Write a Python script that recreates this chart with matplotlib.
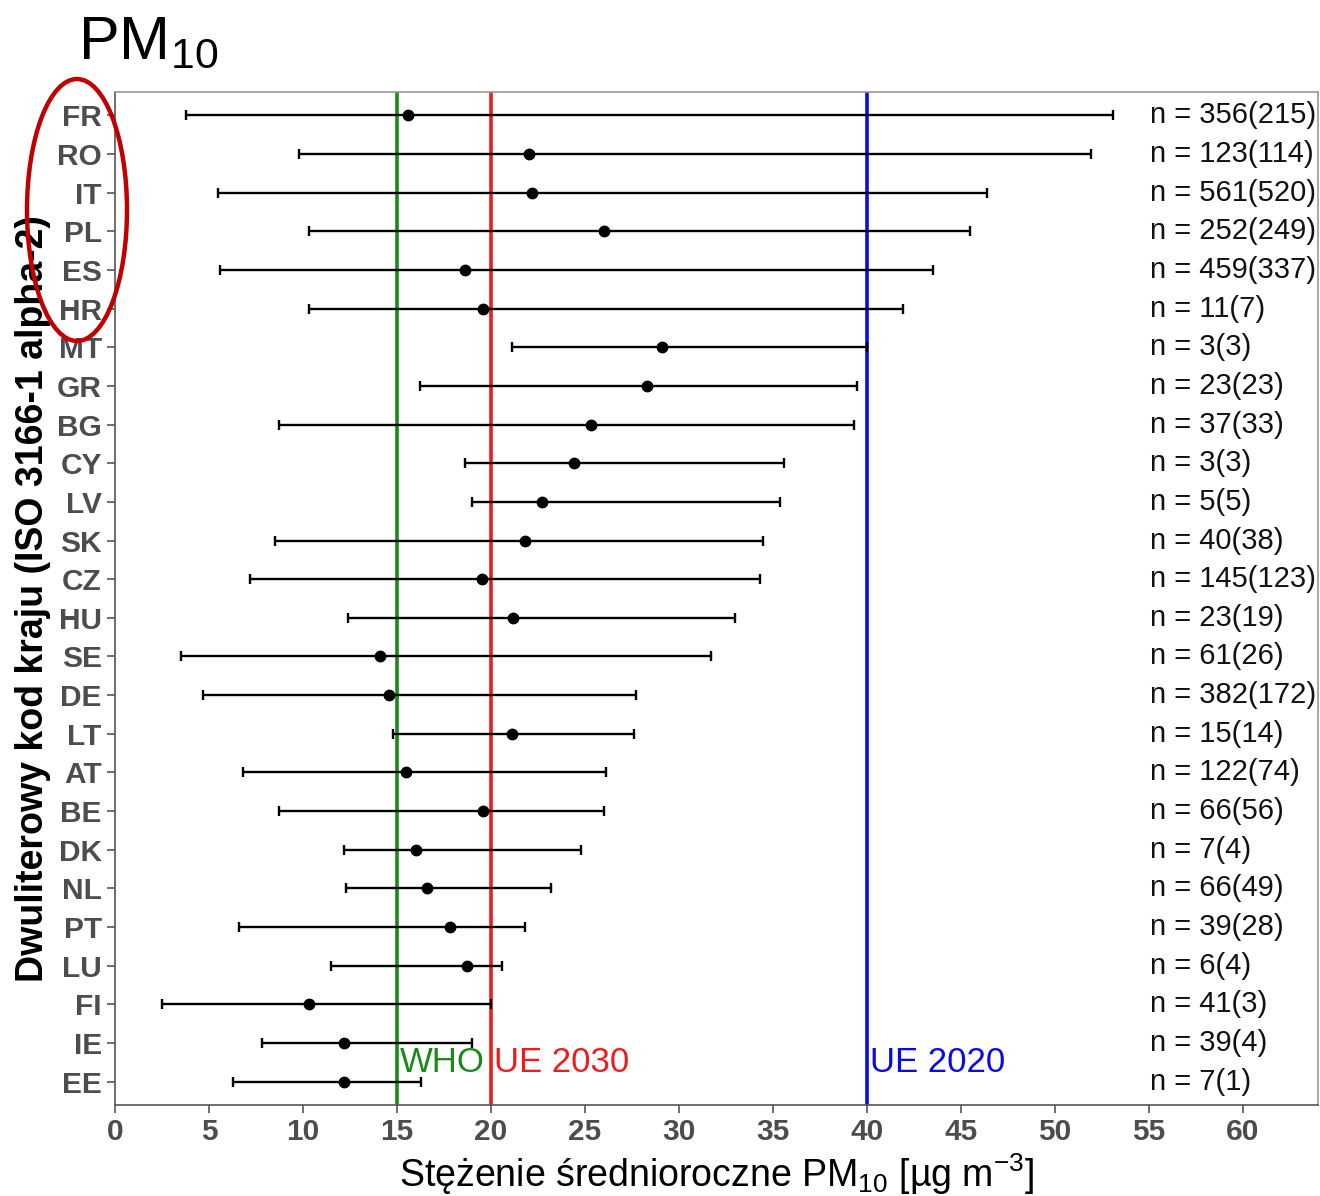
import matplotlib
matplotlib.use("Agg")
import matplotlib.pyplot as plt
from matplotlib.patches import Ellipse
from matplotlib import font_manager

# ===== dane =====
kraje = ['FR', 'RO', 'IT', 'PL', 'ES', 'HR', 'MT', 'GR', 'BG', 'CY', 'LV', 'SK', 'CZ',
         'HU', 'SE', 'DE', 'LT', 'AT', 'BE', 'DK', 'NL', 'PT', 'LU', 'FI', 'IE', 'EE']
srednia = [15.6, 22.0, 22.2, 26.0, 18.6, 19.6, 29.1, 28.3, 25.3, 24.4, 22.7, 21.8, 19.5,
           21.2, 14.1, 14.6, 21.1, 15.5, 19.6, 16.0, 16.6, 17.8, 18.7, 10.3, 12.2, 12.2]
minimum = [3.8, 9.8, 5.5, 10.3, 5.6, 10.3, 21.1, 16.2, 8.7, 18.6, 19.0, 8.5, 7.2,
           12.4, 3.5, 4.7, 14.8, 6.8, 8.7, 12.2, 12.3, 6.6, 11.5, 2.5, 7.8, 6.3]
maksimum = [53.1, 51.9, 46.4, 45.5, 43.5, 41.9, 40.0, 39.5, 39.3, 35.6, 35.4, 34.5, 34.3,
            33.0, 31.7, 27.7, 27.6, 26.1, 26.0, 24.8, 23.2, 21.8, 20.6, 20.0, 19.0, 16.3]
liczba = ['356(215)', '123(114)', '561(520)', '252(249)', '459(337)', '11(7)', '3(3)',
          '23(23)', '37(33)', '3(3)', '5(5)', '40(38)', '145(123)', '23(19)', '61(26)',
          '382(172)', '15(14)', '122(74)', '66(56)', '7(4)', '66(49)', '39(28)', '6(4)',
          '41(3)', '39(4)', '7(1)']

# normy
normy = [15, 20, 40]
normy_opis = ['WHO', 'UE 2030', 'UE 2020']
normy_kolor = ['#1a8a1a', '#ee1c1c', '#0a0ae6']
x_ticks = list(range(0, 61, 5))

# ===== czcionki =====
dostepne = {f.name for f in font_manager.fontManager.ttflist}
waska = 'Liberation Sans Narrow' if 'Liberation Sans Narrow' in dostepne else 'Liberation Sans'
plt.rcParams['font.family'] = ['Liberation Sans', 'DejaVu Sans']
plt.rcParams['mathtext.fontset'] = 'custom'
plt.rcParams['mathtext.rm'] = waska
plt.rcParams['mathtext.it'] = waska

szary = '#4d4d4d'

fig = plt.figure(figsize=(13.2, 11.96), dpi=100)
ax = fig.add_axes([115/1320, 1 - 1105/1196, (1318 - 115)/1320, (1105 - 92)/1196])

y = list(range(len(kraje)))
lewo = [s - m for s, m in zip(srednia, minimum)]
prawo = [m - s for s, m in zip(srednia, maksimum)]

for xv, kol in zip(normy, normy_kolor):
    ax.axvline(xv, color=kol, lw=2.6, zorder=1)

ax.errorbar(srednia, y, xerr=[lewo, prawo], fmt='o', color='black', ms=7.5,
            elinewidth=1.7, capsize=3.5, capthick=1.7, zorder=3)

for yi, n in zip(y, liczba):
    ax.text(55.05, yi, 'n = ' + n, fontsize=21, family=waska, va='center', ha='left',
            color='#111111', clip_on=False)

for xv, opis, kol in zip(normy, normy_opis, normy_kolor):
    ax.text(xv + 0.15, 24.5, opis, color=kol, fontsize=25, family=waska,
            va='center', ha='left')

ax.set_xlim(0, 64)
ax.set_ylim(len(kraje) - 0.4, -0.6)
ax.set_xticks(x_ticks)
ax.set_yticks(y)
ax.set_yticklabels(kraje)
for lab in ax.get_xticklabels() + ax.get_yticklabels():
    lab.set_family(waska)
    lab.set_fontweight('bold')
    lab.set_fontsize(21.5)
    lab.set_color(szary)
ax.tick_params(axis='both', direction='out', length=6, width=1.2, color='#555555')

for s in ['top', 'right']:
    ax.spines[s].set_color('#999999')
    ax.spines[s].set_linewidth(1.2)
for s in ['left', 'bottom']:
    ax.spines[s].set_color('#555555')
    ax.spines[s].set_linewidth(1.2)

ax.set_xlabel('Stężenie średnioroczne PM$_{10}$ [µg m$^{-3}$]', fontsize=27,
              family=waska, labelpad=4)
ax.set_ylabel('Dwuliterowy kod kraju (ISO 3166-1 alpha-2)', fontsize=27,
              fontweight='bold', labelpad=4)

fig.text(78/1320, 1 - 58/1196, 'PM$_{10}$', fontsize=44, family=waska,
         va='baseline', ha='left')

fig.patches.append(Ellipse((77/1320, 1 - 210/1196), 100/1320, 262/1196,
                           transform=fig.transFigure, fill=False,
                           edgecolor='#c00000', lw=3.2, zorder=10))

fig.savefig('out.png', dpi=100)
